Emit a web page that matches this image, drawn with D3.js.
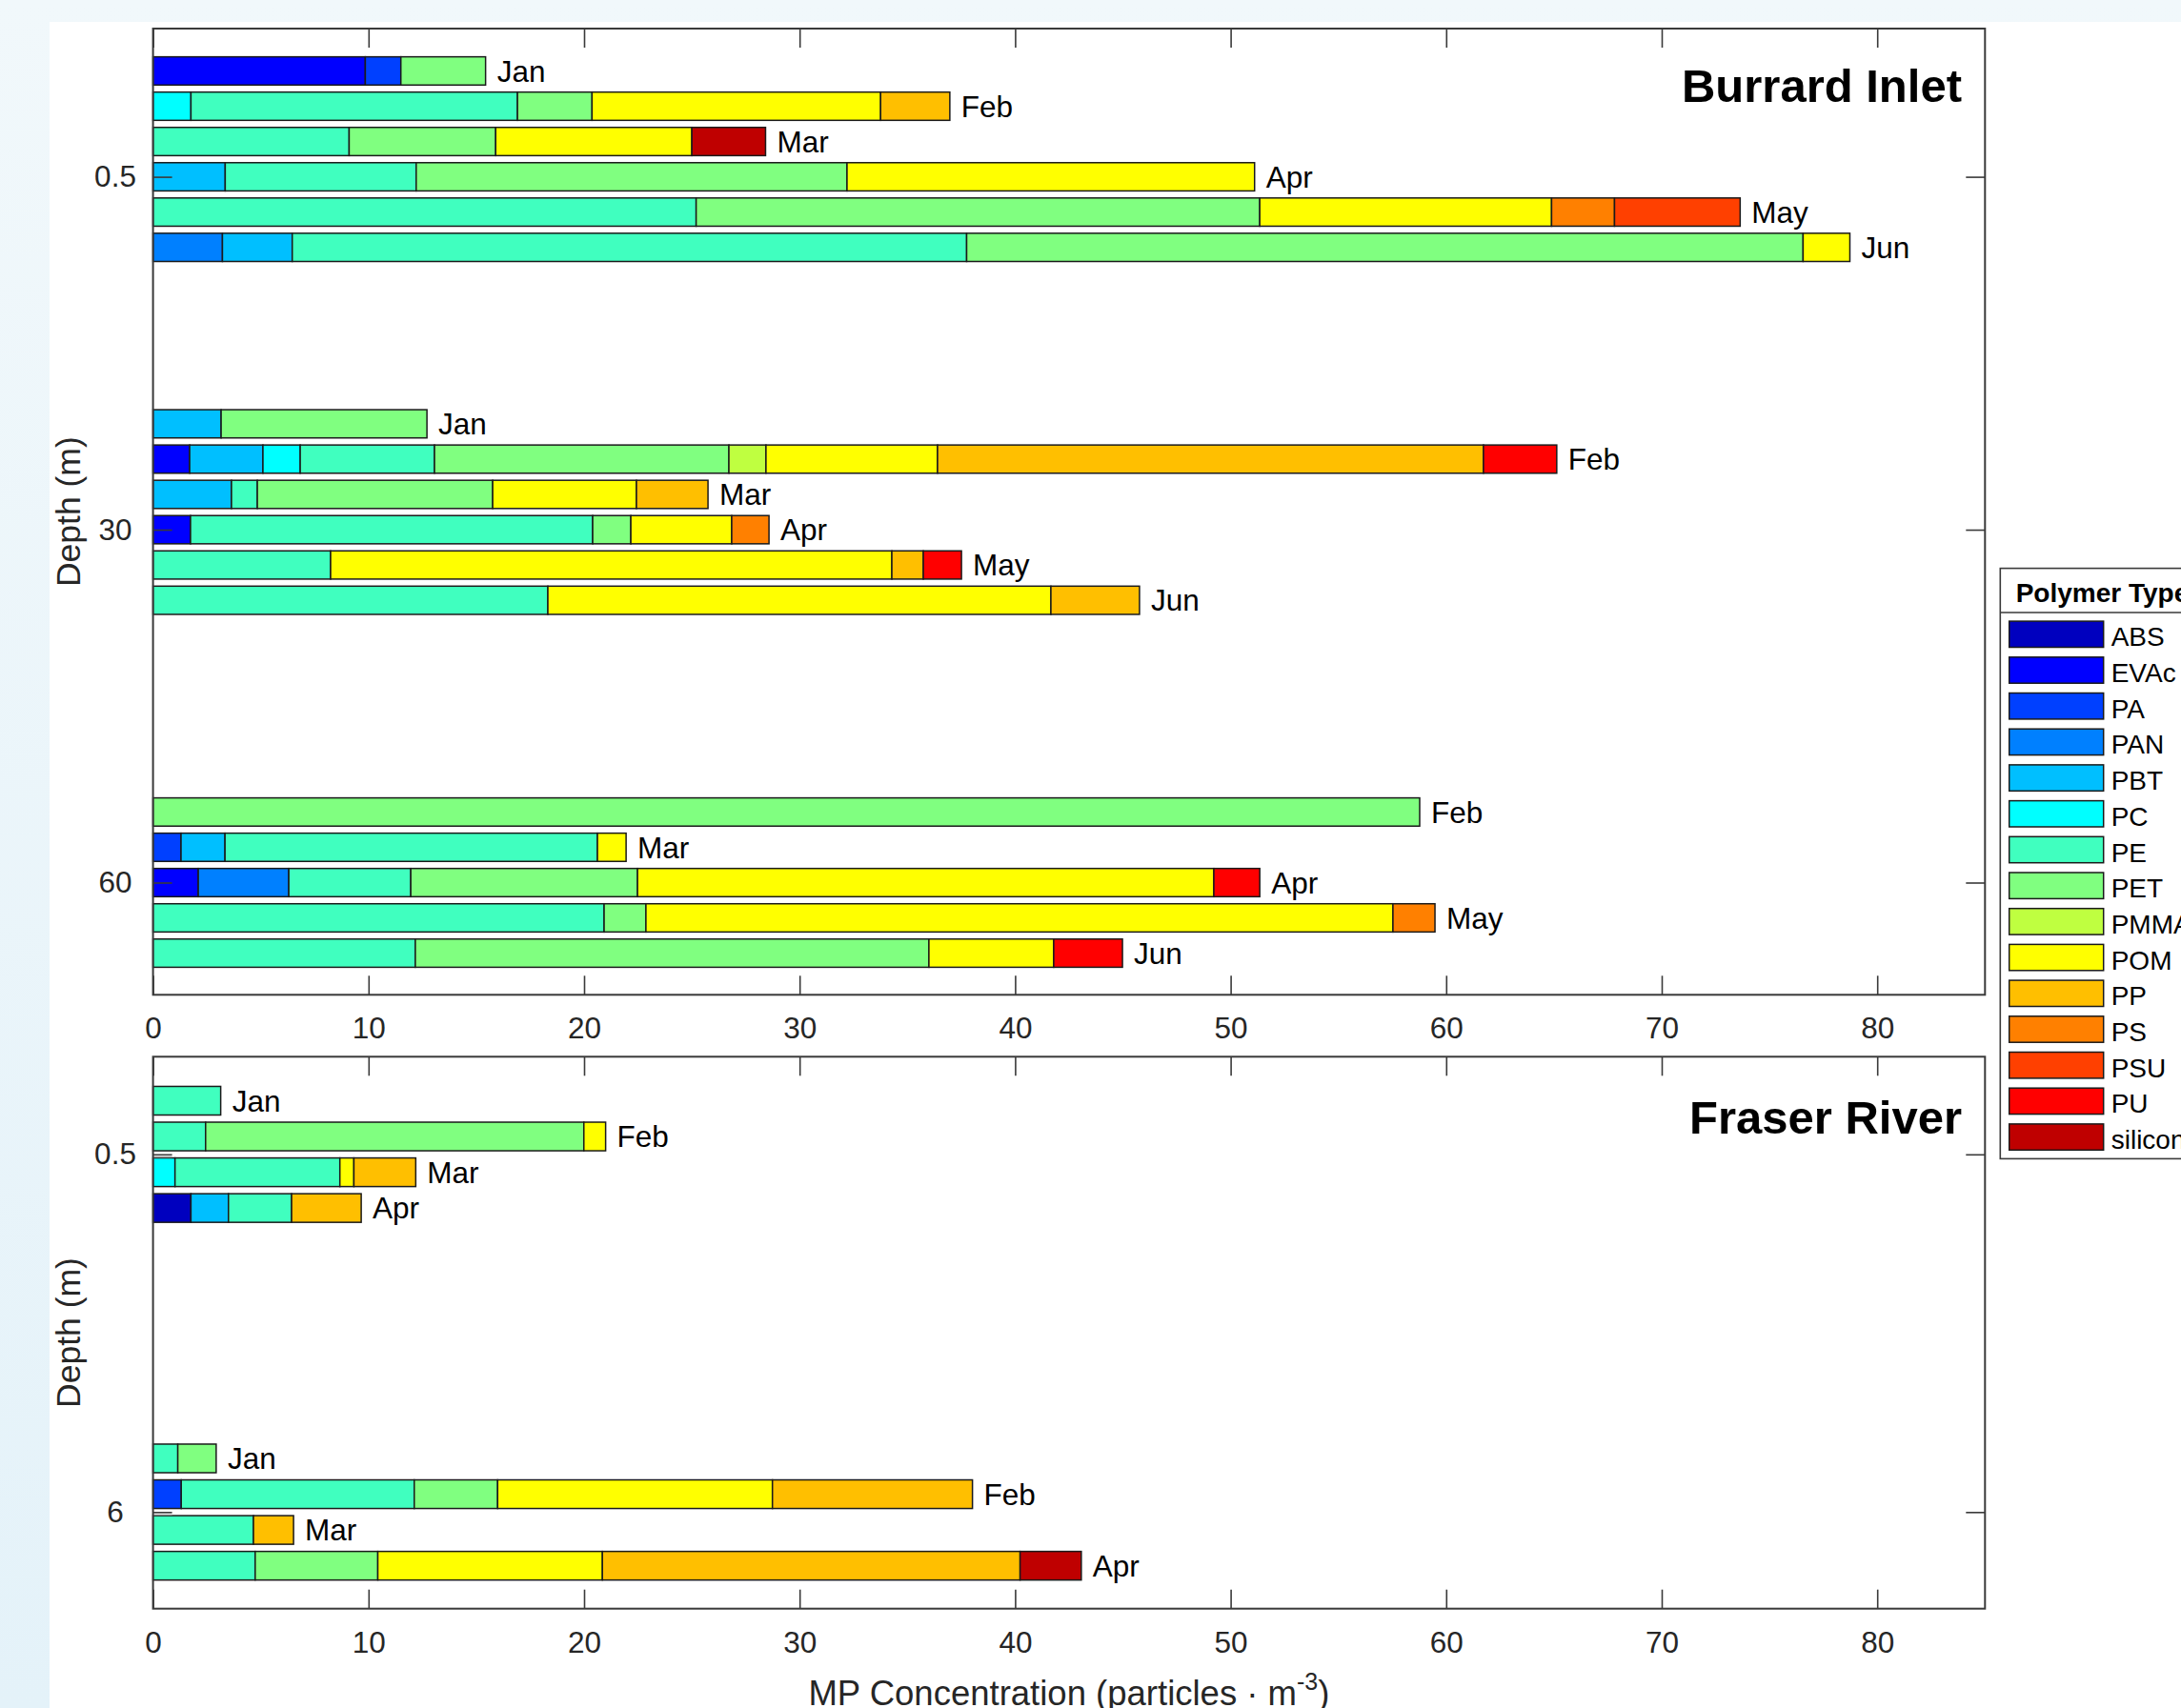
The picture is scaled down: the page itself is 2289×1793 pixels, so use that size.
<!DOCTYPE html>
<html>
<head>
<meta charset="utf-8">
<script src="https://cdnjs.cloudflare.com/ajax/libs/d3/7.8.5/d3.min.js"></script>
<style>
  html,body{margin:0;padding:0;background:#eef6fa;}
  svg{display:block;}
  text{font-family:"Liberation Sans",Arial,Helvetica,sans-serif;}
</style>
</head>
<body>
<svg id="chart" width="2289" height="1793"></svg>
<script>
// ---------------- DATA ----------------
const polymers = ["ABS","EVAc","PA","PAN","PBT","PC","PE","PET","PMMA","POM","PP","PS","PSU","PU","silicone"];
const polymerColors = ["#0000BF","#0000FF","#0040FF","#0080FF","#00BFFF","#00FFFF","#40FFBF","#80FF80","#BFFF40","#FFFF00","#FFBF00","#FF8000","#FF4000","#FF0000","#BF0000"];
const burrardMonths = ["Jan","Feb","Mar","Apr","May","Jun"];
const fraserMonths = ["Jan","Feb","Mar","Apr"];
const burrardDepths = ["0.5","30","60"];
const fraserDepths = ["0.5","6"];
const xTicks = [0,10,20,30,40,50,60,70,80];

// Burrard Inlet, 0.5 m
const burrard05 = [
  {month:"Jan", EVAc:9.85, PA:1.65, PET:3.93},
  {month:"Feb", PC:1.76, PE:15.15, PET:3.46, POM:13.39, PP:3.21},
  {month:"Mar", PE:9.10, PET:6.80, POM:9.10, silicone:3.42},
  {month:"Apr", PBT:3.35, PE:8.86, PET:19.99, POM:18.91},
  {month:"May", PE:25.20, PET:26.15, POM:13.54, PS:2.92, PSU:5.83},
  {month:"Jun", PAN:3.22, PBT:3.24, PE:31.29, PET:38.81, POM:2.17}
];
// Burrard Inlet, 30 m
const burrard30 = [
  {month:"Jan", PBT:3.16, PET:9.55},
  {month:"Feb", EVAc:1.70, PBT:3.40, PC:1.73, PE:6.23, PET:13.66, PMMA:1.72, POM:7.96, PP:25.33, PU:3.40},
  {month:"Mar", PBT:3.64, PE:1.20, PET:10.92, POM:6.67, PP:3.32},
  {month:"Apr", EVAc:1.74, PE:18.66, PET:1.77, POM:4.68, PS:1.73},
  {month:"May", PE:8.24, POM:26.04, PP:1.46, PU:1.77},
  {month:"Jun", PE:18.32, POM:23.34, PP:4.11}
];
// Burrard Inlet, 60 m
const burrard60 = [
  {month:"Feb", PET:58.77},
  {month:"Mar", PA:1.30, PBT:2.04, PE:17.28, POM:1.33},
  {month:"Apr", EVAc:2.10, PAN:4.20, PE:5.66, PET:10.52, POM:26.74, PU:2.13},
  {month:"May", PE:20.93, PET:1.94, POM:34.66, PS:1.95},
  {month:"Jun", PE:12.17, PET:23.83, POM:5.79, PU:3.19}
];
// Fraser River, 0.5 m
const fraser05 = [
  {month:"Jan", PE:3.14},
  {month:"Feb", PE:2.44, PET:17.55, POM:1.01},
  {month:"Mar", PC:1.02, PE:7.65, POM:0.65, PP:2.87},
  {month:"Apr", ABS:1.76, PBT:1.74, PE:2.93, PP:3.23}
];
// Fraser River, 6 m
const fraser6 = [
  {month:"Jan", PE:1.15, PET:1.78},
  {month:"Feb", PA:1.31, PE:10.81, PET:3.87, POM:12.75, PP:9.28},
  {month:"Mar", PE:4.66, PP:1.86},
  {month:"Apr", PE:4.74, PET:5.69, POM:10.42, PP:19.38, silicone:2.84}
];

// ---------------- LAYOUT ----------------
const W = 2289, H = 1793;
const svg = d3.select("#chart");
const FONT = "'Liberation Sans', Arial, Helvetica, sans-serif";
const frameColor = "#3a3a3a";

const defs = svg.append("defs");
const grad = defs.append("linearGradient").attr("id","bg").attr("x1",0).attr("y1",0).attr("x2",0).attr("y2",1);
grad.append("stop").attr("offset","0%").attr("stop-color","#f1f8fb");
grad.append("stop").attr("offset","100%").attr("stop-color","#e4f2f9");
svg.append("rect").attr("width",W).attr("height",H).attr("fill","url(#bg)");
svg.append("rect").attr("x",52).attr("y",23).attr("width",W-52).attr("height",H-23).attr("fill","#ffffff");

const color = d3.scaleOrdinal().domain(polymers).range(polymerColors);
const xLeft = 160.6, xRight = 2083.3;
const x = d3.scaleLinear().domain([0,85]).range([xLeft,xRight]);

const panels = [
  {name:"Burrard Inlet", top:30, bottom:1044.3, yDomain:[0.58,3.318],
   depths:burrardDepths, months:burrardMonths, offRange:[-0.3,0.2],
   groups:[burrard05, burrard30, burrard60], titleY:106.7, doubleTick:false},
  {name:"Fraser River", top:1109.3, bottom:1688.7, yDomain:[0.727,2.27],
   depths:fraserDepths, months:fraserMonths, offRange:[-0.15,0.15],
   groups:[fraser05, fraser6], titleY:1190, doubleTick:true}
];

const stack = d3.stack().keys(polymers).value((d,k)=>d[k]||0);
const barH = 0.08;

panels.forEach(p=>{
  const y = d3.scaleLinear().domain(p.yDomain).range([p.top,p.bottom]);
  const depthPos = d3.scalePoint().domain(p.depths).range([1,p.depths.length]);
  const monthOff = d3.scalePoint().domain(p.months).range(p.offRange);
  const g = svg.append("g");

  // bars
  p.groups.forEach((rows,gi)=>{
    const dep = p.depths[gi];
    const series = stack(rows);
    const yc = r => depthPos(dep) + monthOff(r.month);
    series.forEach(s=>{
      g.selectAll(null).data(s.filter(d=>d[1]-d[0]>0)).enter().append("rect")
        .attr("x",d=>x(d[0]))
        .attr("width",d=>x(d[1])-x(d[0]))
        .attr("y",d=>y(yc(d.data)-barH/2))
        .attr("height",d=>y(yc(d.data)+barH/2)-y(yc(d.data)-barH/2))
        .attr("fill",color(s.key))
        .attr("stroke","#1a1a1a")
        .attr("stroke-width",1.5);
    });
    // month labels
    g.selectAll(null).data(rows).enter().append("text")
      .attr("x",d=>x(d3.sum(polymers,k=>d[k]||0))+12)
      .attr("y",d=>y(yc(d))+11.2)
      .attr("font-size",31.5).attr("fill","#000")
      .text(d=>d.month);
  });

  // axes (ticks inward)
  const tickLen = 20;
  const ax = [
    {gen:d3.axisBottom(x).tickValues(xTicks).tickFormat(d3.format("d")), tr:`translate(0,${p.bottom})`, pad:23.5},
    {gen:d3.axisTop(x).tickValues(xTicks).tickFormat(""), tr:`translate(0,${p.top})`, pad:0},
    {gen:d3.axisLeft(y).tickValues(p.depths.map(d=>depthPos(d))).tickFormat((d,i)=>p.depths[i]), tr:`translate(${xLeft},0)`, pad:24, center:true},
    {gen:d3.axisRight(y).tickValues(p.depths.map(d=>depthPos(d))).tickFormat(""), tr:`translate(${xRight},0)`, pad:0}
  ];
  ax.forEach(a=>{
    const ag = svg.append("g").attr("transform",a.tr)
      .call(a.gen.tickSizeInner(-tickLen).tickSizeOuter(0).tickPadding(a.pad));
    ag.select(".domain").remove();
    ag.attr("font-family",FONT).attr("font-size",31.5);
    ag.selectAll(".tick line").attr("stroke",frameColor).attr("stroke-width",1.6);
    ag.selectAll(".tick text").attr("fill","#262626");
    if(a.center){
      ag.selectAll(".tick text").attr("text-anchor","middle").attr("x",-39.6);
    }
  });
  if(p.doubleTick){
    svg.append("g").selectAll(null).data(p.depths).enter().append("line")
      .attr("x1",xLeft).attr("x2",xLeft+tickLen)
      .attr("y1",d=>y(depthPos(d))+3).attr("y2",d=>y(depthPos(d))+3)
      .attr("stroke","#8a8a8a").attr("stroke-width",1.2);
  }

  // frame
  svg.append("rect").attr("x",xLeft).attr("y",p.top)
    .attr("width",xRight-xLeft).attr("height",p.bottom-p.top)
    .attr("fill","none").attr("stroke",frameColor).attr("stroke-width",2);

  // panel title
  svg.append("text").attr("x",2059).attr("y",p.titleY)
    .attr("text-anchor","end").attr("font-size",49).attr("font-weight","bold")
    .attr("fill","#000").text(p.name);

  // y label
  svg.append("text")
    .attr("transform",`translate(84,${(p.top+p.bottom)/2}) rotate(-90)`)
    .attr("text-anchor","middle").attr("font-size",35.5).attr("fill","#262626")
    .text("Depth (m)");
});

// x label
const xl = svg.append("text").attr("x",(xLeft+xRight)/2).attr("y",1790)
  .attr("text-anchor","middle").attr("font-size",36.5).attr("fill","#262626");
xl.append("tspan").text("MP Concentration (particles · m");
xl.append("tspan").attr("font-size",25).attr("dy",-16).text("-3");
xl.append("tspan").attr("dy",16).text(")");

// legend
const lg = svg.append("g");
const lgX = 2099.3, lgTop = 596.6, lgBottom = 1216.4;
lg.append("rect").attr("x",lgX).attr("y",lgTop).attr("width",400).attr("height",lgBottom-lgTop)
  .attr("fill","#fff").attr("stroke","#3a3a3a").attr("stroke-width",1.6);
lg.append("line").attr("x1",lgX).attr("x2",lgX+400).attr("y1",643).attr("y2",643)
  .attr("stroke","#3a3a3a").attr("stroke-width",1.4);
lg.append("text").attr("x",2115.7).attr("y",631.8).attr("font-size",28).attr("font-weight","bold")
  .attr("fill","#000").text("Polymer Type");
const ly = d3.scaleLinear().domain([0,1]).range([652.1,652.1+37.7]);
const items = lg.selectAll(null).data(polymers).enter().append("g");
items.append("rect").attr("x",2108.7).attr("y",(d,i)=>ly(i)).attr("width",99).attr("height",27.4)
  .attr("fill",d=>color(d)).attr("stroke","#1a1a1a").attr("stroke-width",1.5);
items.append("text").attr("x",2215.7).attr("y",(d,i)=>ly(i)+26.2).attr("font-size",28)
  .attr("fill","#000").text(d=>d);
</script>
</body>
</html>
